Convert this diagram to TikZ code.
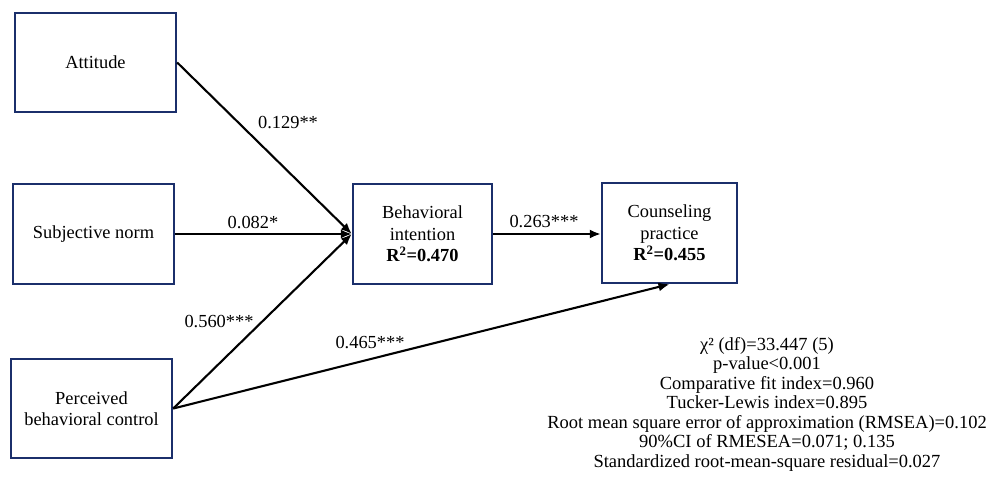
\documentclass[tikz,border=0pt]{standalone}
\usepackage{fontspec}
\setmainfont{Liberation Serif}
\usetikzlibrary{arrows.meta}
\definecolor{boxblue}{HTML}{1B2F6B}
\begin{document}
\begin{tikzpicture}[x=1pt,y=-1pt,
  box/.style={draw=boxblue,line width=2.4pt,fill=white,align=center,inner sep=0pt,
    font=\fontsize{18.4}{21.5}\selectfont},
  path/.style={line width=2.1pt,-{Latex[length=11pt,width=9pt]}},
  coef/.style={font=\fontsize{18.4}{20}\selectfont,inner sep=0pt}]
\useasboundingbox (0,0) rectangle (990,478);
\node[box,minimum width=161pt,minimum height=99pt] (att) at (95.5,62.5) {Attitude};
\node[box,minimum width=161pt,minimum height=100pt] (sn) at (93.5,234) {Subjective norm};
\node[box,minimum width=161pt,minimum height=99pt] (pbc) at (91.5,408.5) {Perceived\\behavioral control};
\node[box,minimum width=139pt,minimum height=100pt] (bi) at (422.5,234) {Behavioral\\intention\\\textbf{R\textsuperscript{2}=0.470}};
\node[box,minimum width=135pt,minimum height=100pt] (cp) at (669.5,233) {Counseling\\practice\\\textbf{R\textsuperscript{2}=0.455}};
\draw[path] (att.east) -- (bi.west);
\draw[path] (sn.east) -- (bi.west);
\draw[path] (pbc.east) -- (bi.west);
\draw[path] (pbc.east) -- (cp.south);
\draw[path] (bi.east) -- (cp.west |- bi.east);
\node[coef] (l1) at (288,123) {0.129**};
\node[coef] (l2) at (253,223) {0.082*};
\node[coef] (l3) at (219,322) {0.560***};
\node[coef] (l4) at (370,343) {0.465***};
\node[coef] (l5) at (544,222) {0.263***};
\node[align=center,inner sep=0pt,font=\fontsize{18.5}{19.5}\selectfont] (stats) at (767,404)
  {χ² (df)=33.447 (5)\\
   p-value<0.001\\
   Comparative fit index=0.960\\
   Tucker-Lewis index=0.895\\
   Root mean square error of approximation (RMSEA)=0.102\\
   90\%CI of RMESEA=0.071; 0.135\\
   Standardized root-mean-square residual=0.027};
\end{tikzpicture}
\end{document}
